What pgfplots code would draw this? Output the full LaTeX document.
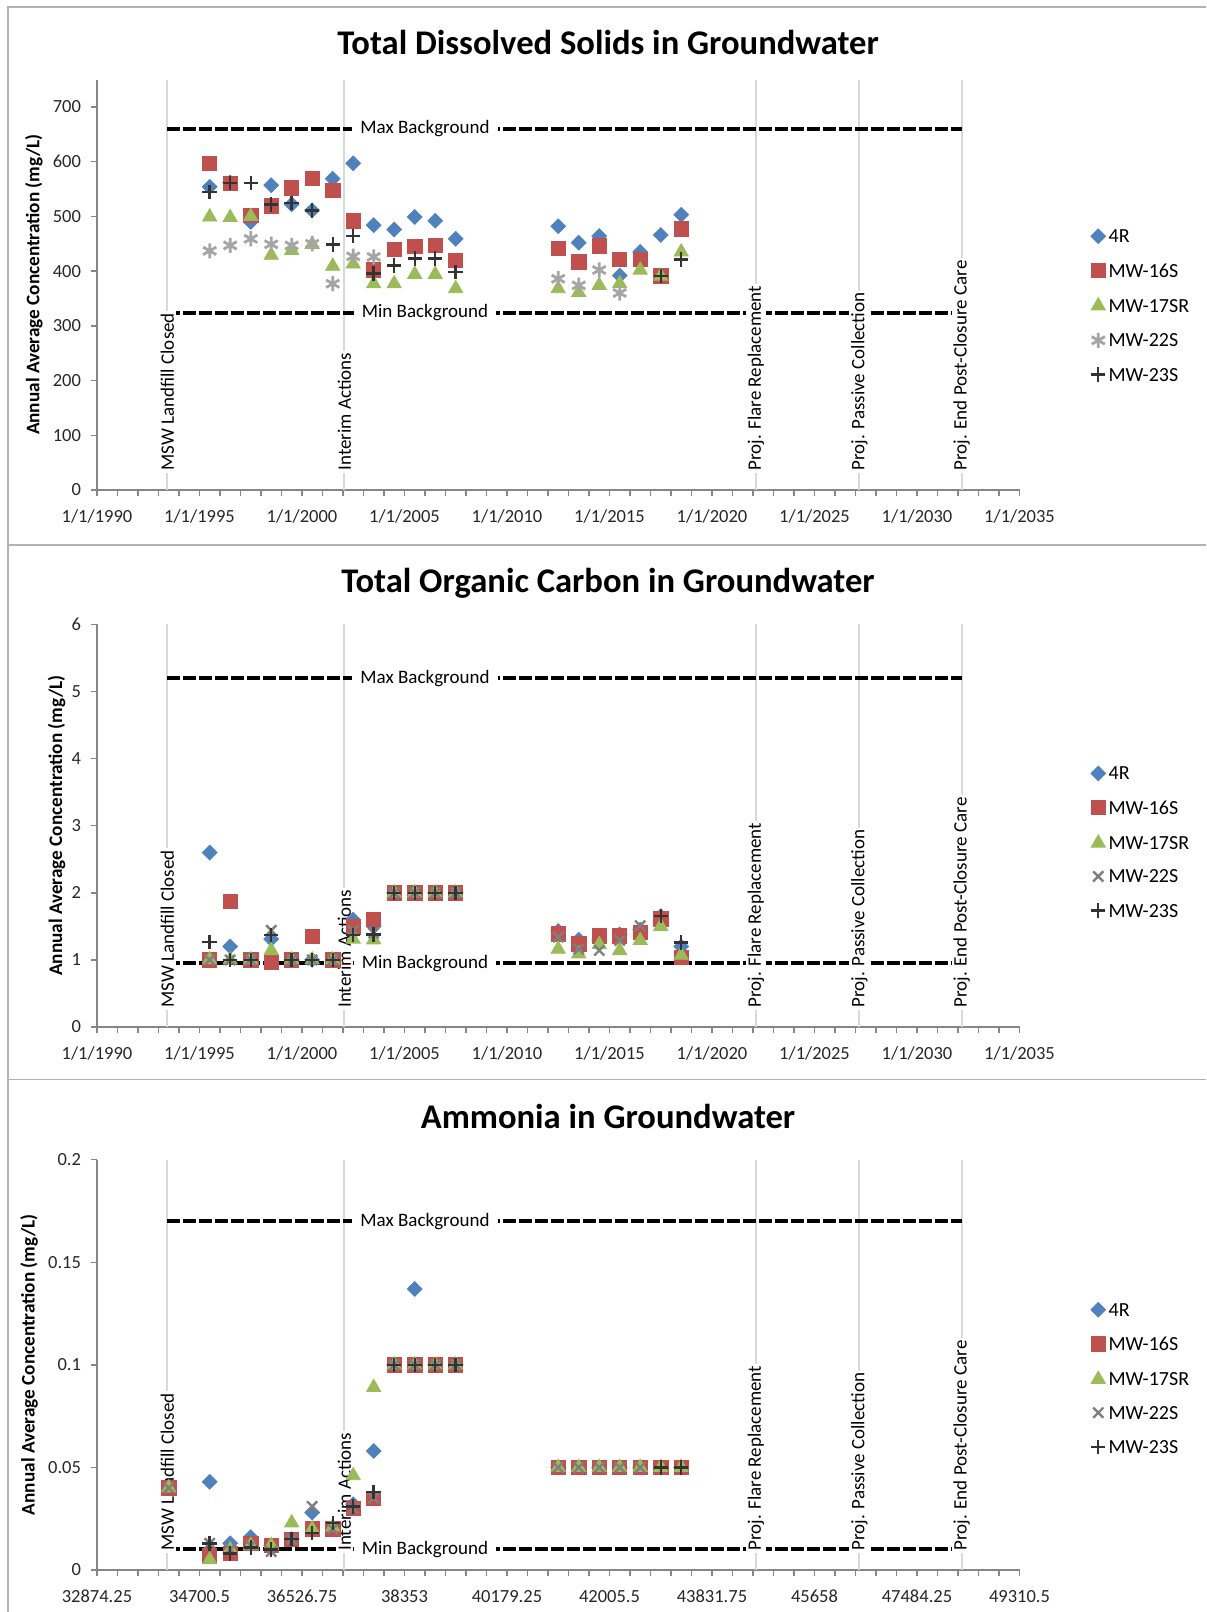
\documentclass[border=0pt]{standalone}
\usepackage{fontspec}
\setmainfont{Carlito}
\usepackage{pgfplots}
\usepackage{pgfplotstable}
\pgfplotsset{compat=1.18}

\definecolor{cA}{HTML}{4F81BD}
\definecolor{cB}{HTML}{C0504D}
\definecolor{cC}{HTML}{9BBB59}
\definecolor{cD}{HTML}{A5A5A5}
\definecolor{cDx}{HTML}{7F7F7F}
\definecolor{cE}{HTML}{333333}
\definecolor{vline}{HTML}{D9D9D9}
\definecolor{axgray}{HTML}{868686}

% annual averages, x = Excel date serial (mid-year)
\pgfplotstableread{
x      r4   m16  m17  m22  m23
34882  554  597  499  437  545
35247  562  560  498  447  561
35613  490  502  500  459  561
35978  557  519  429  449  522
36343  522  552  438  447  525
36708  511  569  449  450  511
37074  569  548  409  377  449
37439  597  492  413  427  464
37804  484  402  377  426  396
38169  476  440  377  nan  410
38535  499  445  394  nan  423
38900  492  447  394  nan  423
39265  459  420  368  nan  398
41091  482  441  368  386  nan
41457  452  417  361  374  nan
41822  464  446  374  402  nan
42187  392  421  377  360  nan
42552  435  421  402  nan  nan
42918  466  391  391  nan  391
43283  503  477  435  nan  421
}\tdsdata

\pgfplotstableread{
x      r4    m16   m17   m22   m23
34882  2.6   1.0   1.0   1.0   1.27
35247  1.2   1.87  1.0   1.0   1.0
35613  1.0   1.0   1.0   1.0   1.0
35978  1.31  0.97  1.14  1.44  1.37
36343  1.0   1.0   1.0   1.0   1.0
36708  1.0   1.35  1.0   1.0   1.0
37074  1.0   1.0   1.0   1.0   1.0
37439  1.6   1.49  1.31  1.44  1.37
37804  1.5   1.6   1.3   1.4   1.38
38169  2     2     2     2     2
38535  2     2     2     2     2
38900  2     2     2     2     2
39265  2     2     2     2     2
41091  1.43  1.39  1.16  1.34  nan
41457  1.3   1.24  1.09  1.16  nan
41822  1.3   1.36  1.23  1.14  nan
42187  1.38  1.36  1.14  1.29  nan
42552  1.45  1.41  1.29  1.51  nan
42918  1.65  1.61  1.5   nan   1.65
43283  1.2   1.04  1.07  nan   1.26
}\tocdata

\pgfplotstableread{
x      r4     m16    m17    m22    m23
34152  0.04   0.04   0.04   0.04   nan
34882  0.043  0.007  0.005  0.013  0.013
35247  0.013  0.008  0.01   0.01   0.008
35613  0.016  0.013  0.012  0.012  0.011
35978  0.012  0.012  0.012  0.009  0.01
36343  0.015  0.015  0.023  0.015  0.015
36708  0.028  0.02   0.02   0.031  0.018
37074  0.02   0.02   0.021  0.02   0.023
37439  0.032  0.03   0.046  0.03   0.031
37804  0.058  0.035  0.089  0.035  0.038
38169  0.1    0.1    0.1    0.1    0.1
38535  0.137  0.1    0.1    0.1    0.1
38900  0.1    0.1    0.1    0.1    0.1
39265  0.1    0.1    0.1    0.1    0.1
41091  0.05   0.05   0.05   0.05   nan
41457  0.05   0.05   0.05   0.05   nan
41822  0.05   0.05   0.05   0.05   nan
42187  0.05   0.05   0.05   0.05   nan
42552  0.05   0.05   0.05   0.05   nan
42918  0.05   0.05   0.05   nan    0.05
43283  0.05   0.05   0.05   nan    0.05
}\nhdata

\tikzset{
  bglab/.style={fill=white, inner xsep=4pt, inner ysep=1pt, font=\fontsize{9.5}{11}\selectfont},
  evlab/.style={fill=white, inner sep=1pt, yshift=8.5pt, rotate=90, anchor=west, font=\fontsize{9.5}{11}\selectfont},
  ttl/.style={anchor=base, font=\bfseries\fontsize{17.3}{20}\selectfont},
}

\pgfplotsset{
  gw/.style={
    scale only axis, width=461.25pt, anchor=south west, clip=false,
    xmin=32874.25, xmax=49310.5, scaled x ticks=false, scaled y ticks=false,
    xtick={32874.25,34700.5,36526.75,38353,40179.25,42005.5,43831.75,45658,47484.25,49310.5},
    minor x tick num=4,
    axis lines=left, axis line style={-, axgray, line width=0.9pt},
    tick style={axgray, line width=0.75pt}, tick align=outside,
    major tick length=3pt, minor tick length=3pt,
    tick label style={font=\fontsize{9.25}{11}\selectfont, text=black!85},
    xticklabel style={yshift=-3.5pt},
    yticklabel style={xshift=-1.5pt},
    ylabel style={font=\bfseries\fontsize{9.6}{11}\selectfont, anchor=center},
    legend cell align=left,
    legend style={draw=none, fill=none, anchor=north west,
      font=\fontsize{10}{12}\selectfont, row sep=8.7pt, column sep=1.5pt,
      nodes={inner sep=0pt}},
    legend image code/.code={\draw[mark repeat=2,mark phase=2,#1]
      plot coordinates {(0pt,0.8pt) (3.5pt,0.8pt) (7pt,0.8pt)};},
  },
  vl/.style={forget plot, vline, line width=1pt},
  bg/.style={forget plot, black, line width=2pt, dash pattern=on 6.3pt off 1.7pt},
  sA/.style={only marks, mark=square*, mark size=2.6pt, mark options={rotate=45, fill=cA, draw=cA}},
  sB/.style={only marks, mark=square*, mark size=3.6pt, mark options={fill=cB, draw=cB}},
  sC/.style={only marks, mark=triangle*, mark size=4.1pt, mark options={fill=cC, draw=cC}},
  sD/.style={only marks, mark=asterisk, mark size=3.8pt, mark options={draw=cD, line width=1.4pt}},
  sDx/.style={only marks, mark=x, mark size=3.6pt, mark options={draw=cDx, line width=1.2pt}},
  sE/.style={only marks, mark=+, mark size=3.6pt, mark options={draw=cE, line width=1.2pt}},
}

\begin{document}
\begin{tikzpicture}[x=1pt,y=1pt]
\useasboundingbox (0,0) rectangle (603,806);
\draw[gray!60, line width=0.6pt] (603,802.5) -- (4,802.5) -- (4,0);
\draw[gray!60, line width=0.6pt] (4,533.5) -- (603,533.5);
\draw[gray!60, line width=0.6pt] (4,266.25) -- (603,266.25);
\node[ttl] at (304,778.5) {Total Dissolved Solids in Groundwater};
\node[ttl] at (304,509.5) {Total Organic Carbon in Groundwater};
\node[ttl] at (304,241.5) {Ammonia in Groundwater};

% ---- Total dissolved solids
\begin{axis}[gw, at={(48.5pt,561pt)}, height=205.2pt,
  ymin=0, ymax=750, ytick={0,100,...,700},
  yticklabels={0,100,200,300,400,500,600,700},
  xticklabels={1/1/1990,1/1/1995,1/1/2000,1/1/2005,1/1/2010,1/1/2015,1/1/2020,1/1/2025,1/1/2030,1/1/2035},
  ylabel={Annual Average Concentration (mg/L)},
  ylabel style={at={(axis description cs:-0.0683,0.5)}},
  legend style={at={(axis description cs:1.0705,0.647)}}]
\addplot[vl] coordinates {(34127,0) (34127,750)};
\addplot[vl] coordinates {(37280,0) (37280,750)};
\addplot[vl] coordinates {(44615,0) (44615,750)};
\addplot[vl] coordinates {(46456,0) (46456,750)};
\addplot[vl] coordinates {(48281,0) (48281,750)};
\addplot[bg] coordinates {(34127,660) (48281,660)};
\addplot[bg] coordinates {(34127,324) (48281,324)};
\node[bglab] at (axis cs:38718,660) {Max Background};
\node[bglab] at (axis cs:38718,324) {Min Background};
\node[evlab] at (axis cs:34127,0) {MSW Landfill Closed};
\node[evlab] at (axis cs:37280,0) {Interim Actions};
\node[evlab] at (axis cs:44615,0) {Proj. Flare Replacement};
\node[evlab] at (axis cs:46456,0) {Proj. Passive Collection};
\node[evlab] at (axis cs:48281,0) {Proj. End Post-Closure Care};
\addplot[sA] table[x=x, y=r4] {\tdsdata}; \addlegendentry{4R}
\addplot[sB] table[x=x, y=m16] {\tdsdata}; \addlegendentry{MW-16S}
\addplot[sC] table[x=x, y=m17] {\tdsdata}; \addlegendentry{MW-17SR}
\addplot[sD] table[x=x, y=m22] {\tdsdata}; \addlegendentry{MW-22S}
\addplot[sE] table[x=x, y=m23] {\tdsdata}; \addlegendentry{MW-23S}
\end{axis}

% ---- Total organic carbon
\begin{axis}[gw, at={(48.5pt,292.5pt)}, height=201.3pt,
  ymin=0, ymax=6, ytick={0,1,...,6},
  yticklabels={0,1,2,3,4,5,6},
  xticklabels={1/1/1990,1/1/1995,1/1/2000,1/1/2005,1/1/2010,1/1/2015,1/1/2020,1/1/2025,1/1/2030,1/1/2035},
  ylabel={Annual Average Concentration (mg/L)},
  ylabel style={at={(axis description cs:-0.0439,0.5)}},
  legend style={at={(axis description cs:1.0705,0.659)}}]
\addplot[vl] coordinates {(34127,0) (34127,6)};
\addplot[vl] coordinates {(37280,0) (37280,6)};
\addplot[vl] coordinates {(44615,0) (44615,6)};
\addplot[vl] coordinates {(46456,0) (46456,6)};
\addplot[vl] coordinates {(48281,0) (48281,6)};
\addplot[bg] coordinates {(34127,5.2) (48281,5.2)};
\addplot[bg] coordinates {(34127,0.95) (48281,0.95)};
\node[bglab] at (axis cs:38718,5.2) {Max Background};
\node[bglab] at (axis cs:38718,0.95) {Min Background};
\node[evlab] at (axis cs:34127,0) {MSW Landfill Closed};
\node[evlab] at (axis cs:37280,0) {Interim Actions};
\node[evlab] at (axis cs:44615,0) {Proj. Flare Replacement};
\node[evlab] at (axis cs:46456,0) {Proj. Passive Collection};
\node[evlab] at (axis cs:48281,0) {Proj. End Post-Closure Care};
\addplot[sA] table[x=x, y=r4] {\tocdata}; \addlegendentry{4R}
\addplot[sB] table[x=x, y=m16] {\tocdata}; \addlegendentry{MW-16S}
\addplot[sC] table[x=x, y=m17] {\tocdata}; \addlegendentry{MW-17SR}
\addplot[sDx] table[x=x, y=m22] {\tocdata}; \addlegendentry{MW-22S}
\addplot[sE] table[x=x, y=m23] {\tocdata}; \addlegendentry{MW-23S}
\end{axis}

% ---- Ammonia
\begin{axis}[gw, at={(48.5pt,21pt)}, height=205.15pt,
  ymin=0, ymax=0.2, ytick={0,0.05,0.1,0.15,0.2},
  yticklabels={0,0.05,0.1,0.15,0.2},
  xticklabels={32874.25,34700.5,36526.75,38353,40179.25,42005.5,43831.75,45658,47484.25,49310.5},
  ylabel={Annual Average Concentration (mg/L)},
  ylabel style={at={(axis description cs:-0.0737,0.5)}},
  legend style={at={(axis description cs:1.0705,0.663)}}]
\addplot[vl] coordinates {(34127,0) (34127,0.2)};
\addplot[vl] coordinates {(37280,0) (37280,0.2)};
\addplot[vl] coordinates {(44615,0) (44615,0.2)};
\addplot[vl] coordinates {(46456,0) (46456,0.2)};
\addplot[vl] coordinates {(48281,0) (48281,0.2)};
\addplot[bg] coordinates {(34127,0.17) (48281,0.17)};
\addplot[bg] coordinates {(34127,0.01) (48281,0.01)};
\node[bglab] at (axis cs:38718,0.17) {Max Background};
\node[bglab] at (axis cs:38718,0.01) {Min Background};
\node[evlab] at (axis cs:34127,0) {MSW Landfill Closed};
\node[evlab] at (axis cs:37280,0) {Interim Actions};
\node[evlab] at (axis cs:44615,0) {Proj. Flare Replacement};
\node[evlab] at (axis cs:46456,0) {Proj. Passive Collection};
\node[evlab] at (axis cs:48281,0) {Proj. End Post-Closure Care};
\addplot[sA] table[x=x, y=r4] {\nhdata}; \addlegendentry{4R}
\addplot[sB] table[x=x, y=m16] {\nhdata}; \addlegendentry{MW-16S}
\addplot[sC] table[x=x, y=m17] {\nhdata}; \addlegendentry{MW-17SR}
\addplot[sDx] table[x=x, y=m22] {\nhdata}; \addlegendentry{MW-22S}
\addplot[sE] table[x=x, y=m23] {\nhdata}; \addlegendentry{MW-23S}
\end{axis}
\end{tikzpicture}
\end{document}
